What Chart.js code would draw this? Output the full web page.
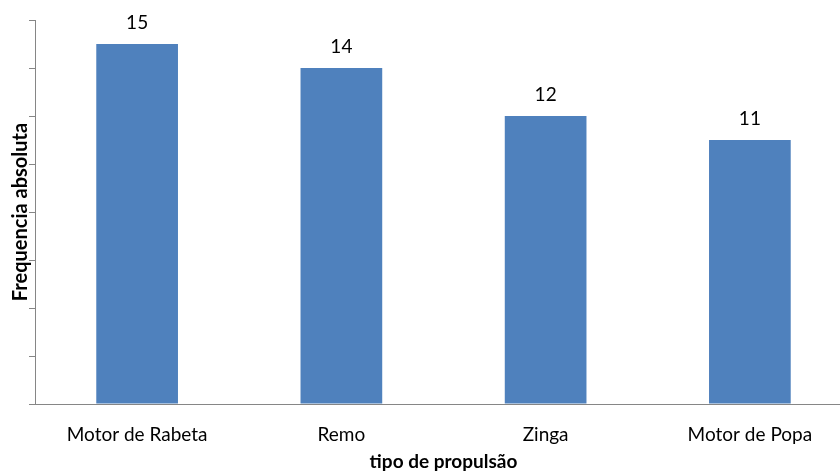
<!DOCTYPE html>
<html>
<head>
<meta charset="utf-8">
<script src="https://cdn.jsdelivr.net/npm/chart.js@4"></script>
<style>
html,body{margin:0;padding:0;background:#fff;overflow:hidden;}
#wrap{width:840px;height:475px;overflow:hidden;}
canvas{display:block;}
</style>
</head>
<body>
<div id="wrap"><canvas id="c" width="852" height="475" style="width:852px;height:475px"></canvas></div>
<script>
const categories = ["Motor de Rabeta", "Remo", "Zinga", "Motor de Popa"];
const frequencies = [15, 14, 12, 11];
const yTitle = "Frequencia absoluta";
const xTitle = "tipo de propulsão";

const FONT = "Lato, 'Open Sans', sans-serif";

const valueLabels = {
  id: 'valueLabels',
  afterDatasetsDraw(chart) {
    const ctx = chart.ctx;
    const meta = chart.getDatasetMeta(0);
    ctx.save();
    ctx.font = "19px " + FONT;
    ctx.fillStyle = "#000";
    ctx.textAlign = "center";
    ctx.textBaseline = "middle";
    meta.data.forEach((bar, i) => {
      ctx.fillText(String(frequencies[i]), bar.x, bar.y - 21);
    });
    ctx.restore();
  }
};

new Chart(document.getElementById('c'), {
  type: 'bar',
  data: {
    labels: categories,
    datasets: [{
      data: frequencies,
      backgroundColor: '#4F81BD',
      borderWidth: 0,
      barPercentage: 0.4,
      categoryPercentage: 1.0
    }]
  },
  options: {
    responsive: false,
    animation: false,
    devicePixelRatio: 1,
    layout: { padding: { top: 20, left: 0, right: 0, bottom: 0 } },
    plugins: { legend: { display: false }, tooltip: { enabled: false } },
    scales: {
      x: {
        grid: { display: false },
        border: { display: true, color: '#868686', width: 1 },
        ticks: { color: '#000', font: { family: FONT, size: 19 }, padding: 11, maxRotation: 0 },
        title: { display: true, text: xTitle, color: '#000', font: { family: FONT, size: 19, weight: 'bold' }, padding: { top: 4, bottom: 2 } },
        afterFit(s) { s.height = 71; }
      },
      y: {
        min: 0, max: 16,
        ticks: { display: false, stepSize: 2 },
        grid: { drawOnChartArea: false, drawTicks: true, tickLength: 6, color: '#868686' },
        border: { display: true, color: '#868686', width: 1 },
        title: { display: true, text: yTitle, color: '#000', font: { family: FONT, size: 20, weight: 'bold' }, padding: { top: 9, bottom: 0 } },
        afterFit(s) { s.width = 35; }
      }
    }
  },
  plugins: [valueLabels]
});
</script>
</body>
</html>
